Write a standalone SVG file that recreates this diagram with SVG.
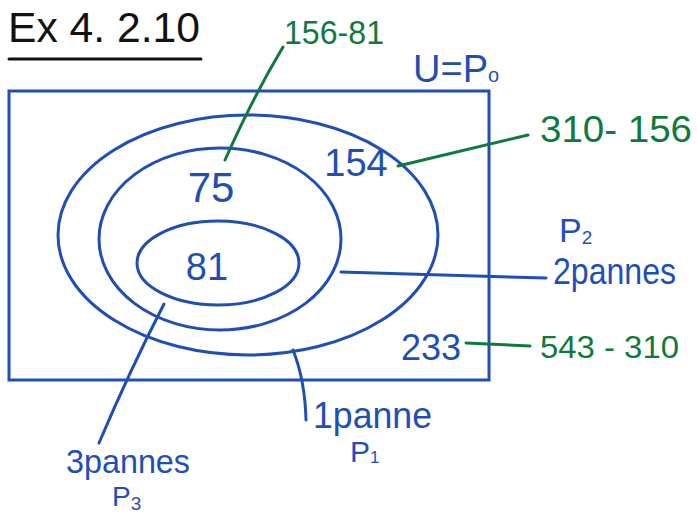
<svg xmlns="http://www.w3.org/2000/svg" width="697" height="515" viewBox="0 0 697 515">
<style>
.b{fill:none;stroke:#1f4fb5;stroke-width:3;stroke-linecap:round}
.g{fill:none;stroke:#0f7a3c;stroke-width:3;stroke-linecap:round}
.tb{fill:#1f4fb5;font-family:"Liberation Sans",Arial,sans-serif}
.tg{fill:#0f7a3c;font-family:"Liberation Sans",Arial,sans-serif}
.tk{fill:#111;font-family:"Liberation Sans",Arial,sans-serif}
</style>
<rect width="697" height="515" fill="#fff"/>
<g id="title">
<text class="tk" x="8" y="42" font-size="42" textLength="192" lengthAdjust="spacingAndGlyphs">Ex 4. 2.10</text>
<line x1="9" y1="59" x2="201" y2="59" stroke="#111" stroke-width="3" stroke-linecap="round"/>
</g>
<g id="universe">
<rect class="b" x="9" y="91" width="480" height="289"/>
<text class="tb" x="413" y="82" font-size="38">U=P<tspan font-size="20">o</tspan></text>
</g>
<g id="P1"><ellipse class="b" cx="248" cy="235" rx="190" ry="120"/></g>
<g id="P2"><ellipse class="b" cx="220" cy="239" rx="121" ry="91"/></g>
<g id="P3"><ellipse class="b" cx="218" cy="263" rx="81" ry="42"/></g>
<g id="counts">
<text class="tb" x="211" y="202" font-size="42" text-anchor="middle">75</text>
<text class="tb" x="356" y="176" font-size="38" text-anchor="middle">154</text>
<text class="tb" x="207" y="280" font-size="38" text-anchor="middle">81</text>
<text class="tb" x="431" y="360" font-size="36" text-anchor="middle">233</text>
</g>
<g id="connectors">
<path class="g" d="M225,160 Q253,97 283,47"/>
<path class="g" d="M398,166 L528,135"/>
<path class="g" d="M466,343 L530,346"/>
<path class="b" d="M341,272 L546,278"/>
<path class="b" d="M164,304 Q130,370 99,443"/>
<path class="b" d="M293,350 Q305,380 306,420"/>
</g>
<g id="labels">
<text class="tg" x="284" y="44" font-size="34" textLength="100" lengthAdjust="spacingAndGlyphs">156-81</text>
<text class="tg" x="540" y="142" font-size="37" textLength="152" lengthAdjust="spacingAndGlyphs">310- 156</text>
<text class="tg" x="540" y="358" font-size="31" textLength="139" lengthAdjust="spacingAndGlyphs">543 - 310</text>
<text class="tb" x="559" y="242" font-size="34">P<tspan font-size="19" dy="2">2</tspan></text>
<text class="tb" x="553" y="284" font-size="36" textLength="123" lengthAdjust="spacingAndGlyphs">2pannes</text>
<text class="tb" x="313" y="428" font-size="36" textLength="119" lengthAdjust="spacingAndGlyphs">1panne</text>
<text class="tb" x="350" y="462" font-size="30">P<tspan font-size="17" dy="1">1</tspan></text>
<text class="tb" x="66" y="473" font-size="33" textLength="124" lengthAdjust="spacingAndGlyphs">3pannes</text>
<text class="tb" x="112" y="506" font-size="28">P<tspan font-size="19" dy="4">3</tspan></text>
</g>
</svg>
